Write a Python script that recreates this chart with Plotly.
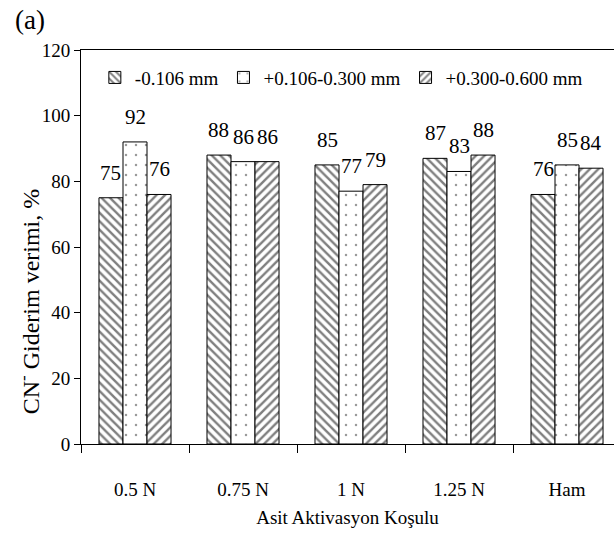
import plotly.graph_objects as go

categories = ["0.5 N", "0.75 N", "1 N", "1.25 N", "Ham"]
series_names = ["-0.106 mm", "+0.106-0.300 mm", "+0.300-0.600 mm"]
s1 = [75, 88, 85, 87, 76]
s2 = [92, 86, 77, 83, 85]
s3 = [76, 86, 79, 88, 84]
series_values = [s1, s2, s3]
y_ticks = [0, 20, 40, 60, 80, 100, 120]

FONT = "'Times New Roman', 'Liberation Serif', Tinos, serif"
BARGAP = 0.333
patterns = [
    dict(shape="\\", fgcolor="black", bgcolor="white", size=6, solidity=0.4),
    dict(shape=".", fgcolor="#333333", bgcolor="white", size=10, solidity=0.05),
    dict(shape="/", fgcolor="black", bgcolor="white", size=6, solidity=0.4),
]

fig = go.Figure()
for name, vals, pat in zip(series_names, series_values, patterns):
    fig.add_trace(go.Bar(
        x=categories, y=vals, name=name,
        marker=dict(color="white", pattern=pat, line=dict(color="black", width=1)),
    ))

# data labels above bars
bw = (1 - BARGAP) / len(series_values)
annotations = []
for j, vals in enumerate(series_values):
    off = (j - (len(series_values) - 1) / 2) * bw
    for i, v in enumerate(vals):
        annotations.append(dict(
            x=i + off, y=v, xref="x", yref="y", text=str(v), showarrow=False,
            yanchor="bottom", yshift=11, font=dict(family=FONT, size=21, color="black"),
        ))
annotations.append(dict(
    x=-0.128, y=1.076, xref="paper", yref="paper", text="(a)", showarrow=False,
    xanchor="left", yanchor="middle", font=dict(family=FONT, size=27, color="black"),
))
# y-axis title (placed like in the reference, below the axis middle)
annotations.append(dict(
    x=-0.097, y=0.363, xref="paper", yref="paper", text="CN<sup>-</sup> Giderim verimi, %",
    textangle=-90, showarrow=False, xanchor="center", yanchor="middle",
    font=dict(family=FONT, size=24, color="black"),
))

fig.update_layout(
    width=614, height=536,
    margin=dict(l=81, r=0, t=50, b=92),
    paper_bgcolor="white", plot_bgcolor="white",
    barmode="group", bargap=BARGAP, bargroupgap=0,
    font=dict(family=FONT, color="black"),
    annotations=annotations,
    legend=dict(
        orientation="h", x=0.026, y=0.93, xanchor="left", yanchor="middle",
        font=dict(family=FONT, size=19, color="black"),
        bgcolor="rgba(0,0,0,0)", itemwidth=30, tracegroupgap=0,
    ),
    showlegend=True,
)
fig.update_xaxes(
    type="category", range=[-0.5, 4.435],
    showline=True, linecolor="black", linewidth=1, mirror=True,
    ticks="outside", ticklen=8, tickcolor="black", tickson="boundaries",
    ticklabelstandoff=28,
    showgrid=False, tickfont=dict(family=FONT, size=19, color="black"),
    title=dict(text="Asit Aktivasyon Koşulu", font=dict(family=FONT, size=19, color="black"), standoff=11),
)
fig.update_yaxes(
    range=[0, 120], tickvals=y_ticks,
    showline=True, linecolor="black", linewidth=1,
    ticks="outside", ticklen=6, tickcolor="black",
    showgrid=False, zeroline=False,
    tickfont=dict(family=FONT, size=19, color="black"),
)

fig.write_html("out.html")
